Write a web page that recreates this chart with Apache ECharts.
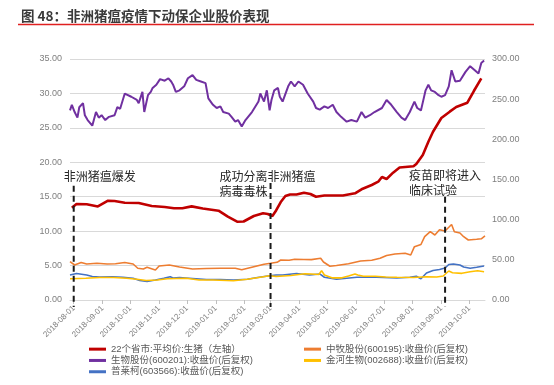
<!DOCTYPE html>
<html>
<head>
<meta charset="utf-8">
<script src="https://cdn.jsdelivr.net/npm/echarts@6/dist/echarts.min.js"></script>
<style>
html,body{margin:0;padding:0;background:#fff;}
#c{width:554px;height:385px;}
</style>
</head>
<body>
<div id="c"></div>
<script>
// ---------------- DATA ----------------
const titleText = '图 48：非洲猪瘟疫情下动保企业股价表现';
const seriesNames = ['22个省市:平均价:生猪（左轴）', '中牧股份(600195):收盘价(后复权)', '生物股份(600201):收盘价(后复权)', '金河生物(002688):收盘价(后复权)', '普莱柯(603566):收盘价(后复权)'];

const xTickLabels = ['2018-08-01','2018-09-01','2018-10-01','2018-11-01','2018-12-01','2019-01-01','2019-02-01','2019-03-01','2019-04-01','2019-05-01','2019-06-01','2019-07-01','2019-08-01','2019-09-01','2019-10-01'];
const leftTicks = [0,5,10,15,20,25,30,35];
const rightTicks = [0,50,100,150,200,250,300];

// pig price (left axis)
const pigDates = ['2018-07-30','2018-08-04','2018-08-15','2018-08-27','2018-09-07','2018-09-14','2018-09-25','2018-10-10','2018-10-24','2018-11-07','2018-11-17','2018-11-26','2018-12-06','2018-12-18','2019-01-04','2019-01-14','2019-01-24','2019-01-31','2019-02-11','2019-02-21','2019-02-26','2019-03-03','2019-03-07','2019-03-12','2019-03-17','2019-03-22','2019-03-29','2019-04-06','2019-04-13','2019-04-19','2019-04-28','2019-05-18','2019-05-31','2019-06-07','2019-06-18','2019-06-25','2019-06-29','2019-07-04','2019-07-11','2019-07-18','2019-08-02','2019-08-05','2019-08-12','2019-08-18','2019-08-23','2019-09-01','2019-09-10','2019-09-17','2019-09-29','2019-10-06','2019-10-14'];
const pigValues = [13.4,13.94,13.9,13.58,14.42,14.38,14.13,14.09,13.65,13.5,13.32,13.32,13.6,13.29,12.97,12.1,11.37,11.4,12.2,12.59,12.49,12.2,13.0,14.23,15.1,15.32,15.32,15.58,15.39,15.0,15.18,15.18,15.5,16.08,16.7,17.18,17.86,17.57,18.49,19.24,19.42,19.75,21.06,22.99,24.44,26.43,27.35,28.03,28.65,30.35,32.2];

// 生物股份 (right axis)
const swDates = ['2018-07-28','2018-07-30','2018-08-02','2018-08-05','2018-08-07','2018-08-11','2018-08-13','2018-08-16','2018-08-21','2018-08-25','2018-08-28','2018-08-31','2018-09-04','2018-09-08','2018-09-14','2018-09-17','2018-09-20','2018-09-25','2018-10-02','2018-10-08','2018-10-10','2018-10-14','2018-10-16','2018-10-20','2018-10-23','2018-10-25','2018-10-29','2018-11-02','2018-11-07','2018-11-11','2018-11-14','2018-11-16','2018-11-19','2018-11-23','2018-11-28','2018-12-02','2018-12-07','2018-12-11','2018-12-16','2018-12-21','2018-12-24','2018-12-29','2019-01-02','2019-01-06','2019-01-09','2019-01-15','2019-01-18','2019-01-22','2019-01-25','2019-01-29','2019-02-02','2019-02-09','2019-02-16','2019-02-18','2019-02-22','2019-02-25','2019-02-28','2019-03-02','2019-03-05','2019-03-09','2019-03-11','2019-03-14','2019-03-20','2019-03-23','2019-03-27','2019-03-31','2019-04-05','2019-04-10','2019-04-16','2019-04-19','2019-04-23','2019-04-28','2019-05-02','2019-05-07','2019-05-11','2019-05-16','2019-05-22','2019-05-27','2019-06-02','2019-06-07','2019-06-11','2019-06-16','2019-06-21','2019-06-29','2019-07-04','2019-07-09','2019-07-15','2019-07-20','2019-07-24','2019-07-29','2019-08-03','2019-08-06','2019-08-10','2019-08-13','2019-08-15','2019-08-18','2019-08-21','2019-08-25','2019-08-29','2019-09-01','2019-09-05','2019-09-09','2019-09-12','2019-09-16','2019-09-21','2019-09-27','2019-10-02','2019-10-07','2019-10-11','2019-10-14','2019-10-17'];
const swValues = [236,243,234,227,240,245,230,224,217,234,227,230,224,228,230,240,238,257,253,249,245,259,234,255,259,264,268,275,273,276,272,268,259,261,266,276,280,274,272,270,251,243,239,241,234,232,228,222,224,216,224,234,247,257,247,261,236,249,261,264,253,247,266,272,266,272,268,257,247,239,237,241,239,243,234,228,222,224,222,234,227,230,234,239,249,243,234,227,224,234,247,239,236,251,261,268,261,259,255,253,255,266,286,272,273,284,291,286,282,295,298];

// 中牧股份 (right axis)
const zmDates = ['2018-07-28','2018-08-02','2018-08-09','2018-08-15','2018-08-26','2018-09-06','2018-09-15','2018-09-25','2018-10-04','2018-10-09','2018-10-15','2018-10-19','2018-10-23','2018-10-28','2018-11-01','2018-11-12','2018-11-23','2018-12-07','2018-12-22','2019-01-06','2019-01-22','2019-01-29','2019-02-11','2019-02-22','2019-03-01','2019-03-08','2019-03-12','2019-03-21','2019-03-27','2019-04-06','2019-04-14','2019-04-24','2019-04-27','2019-05-04','2019-05-11','2019-05-24','2019-06-06','2019-06-18','2019-06-27','2019-07-04','2019-07-13','2019-07-24','2019-07-30','2019-08-03','2019-08-10','2019-08-14','2019-08-20','2019-08-25','2019-08-30','2019-09-05','2019-09-09','2019-09-12','2019-09-15','2019-09-21','2019-09-25','2019-09-30','2019-10-09','2019-10-14','2019-10-18'];
const zmValues = [47.7,43.6,46.7,44.8,45.7,44.8,45.2,46.7,44.8,39.5,38.6,40.7,39.2,37.3,42.3,43.6,41.1,38.6,39.2,39.5,39.5,37.6,41.5,44.6,45.7,46.9,49.8,49.4,50.7,50.4,50.3,51.9,47.3,42,42.9,45.2,48.6,49.4,51.9,55.4,57.3,58.1,56,66.4,69.1,78.8,85,80.9,87.5,85.9,90.5,94,85,83.4,78.8,74.7,75.6,76.2,79.7];

// 金河生物 (right axis)
const jhDates = ['2018-07-28','2018-08-14','2018-08-29','2018-09-13','2018-09-27','2018-10-08','2018-10-18','2018-10-30','2018-11-10','2018-11-30','2018-12-14','2018-12-29','2019-01-20','2019-02-04','2019-02-18','2019-02-28','2019-03-07','2019-03-23','2019-04-07','2019-04-14','2019-04-22','2019-04-25','2019-04-28','2019-05-06','2019-05-17','2019-05-24','2019-05-31','2019-06-03','2019-06-09','2019-06-22','2019-07-03','2019-07-15','2019-08-02','2019-08-16','2019-08-27','2019-09-03','2019-09-06','2019-09-09','2019-09-13','2019-09-23','2019-10-02','2019-10-10','2019-10-17'];
const jhValues = [26.4,27,28,28,27,25.8,24.3,24.9,26.4,27,24.9,24.9,24,25.8,28.3,30.1,29.3,30.5,32.7,32.4,31.7,36.5,31.1,27.6,27.6,29.9,32.4,31.1,29.5,29.5,28.6,28.3,28,29,28.6,29.9,33,36.1,34,33.2,35.2,36.5,35.2];

// 普莱柯 (right axis)
const plkDates = ['2018-07-28','2018-08-04','2018-08-15','2018-08-21','2018-08-29','2018-09-12','2018-09-23','2018-10-04','2018-10-11','2018-10-19','2018-10-28','2018-11-06','2018-11-13','2018-11-16','2018-11-23','2018-12-07','2018-12-22','2019-01-06','2019-01-20','2019-02-04','2019-02-15','2019-02-26','2019-03-07','2019-03-14','2019-03-29','2019-04-12','2019-04-23','2019-04-28','2019-05-11','2019-06-02','2019-06-23','2019-07-15','2019-07-29','2019-08-05','2019-08-10','2019-08-16','2019-08-23','2019-08-30','2019-09-05','2019-09-09','2019-09-14','2019-09-21','2019-09-25','2019-10-02','2019-10-09','2019-10-17'];
const plkValues = [31.1,33,31.1,29.3,28.6,28.9,28.3,27,24.3,23,24.9,27,29,27.4,28,26.8,25.5,25.5,24.9,25.8,28,29.9,31.1,31.1,33,31.1,32.4,28.3,25.8,28.3,28.3,27.4,28.3,29.5,26.4,33.6,36.7,38,39.8,44.2,44.8,43.6,41.1,39.5,40.7,42.3];

// events (dashed markers, left-axis value range)
const eventDates = ['2018-08-01','2019-03-01','2019-09-05'];
const eventTexts = ['非洲猪瘟爆发','成功分离非洲猪瘟\n病毒毒株','疫苗即将进入\n临床试验'];
const eventTops = [16.6, 17.0, 15.0];
const eventBottom = -1.0;

// ---------------- CHART ----------------
function ts(s){const p=s.split('-').map(Number);return Date.UTC(p[0],p[1]-1,p[2]);}
function pairs(d,v){return d.map((x,i)=>[ts(x),v[i]]);}
function fmtDate(v){const d=new Date(v);const m=d.getUTCMonth()+1, dd=d.getUTCDate();return d.getUTCFullYear()+'-'+(m<10?'0':'')+m+'-'+(dd<10?'0':'')+dd;}

const colors = {red:'#c00000', orange:'#ed7d31', purple:'#7030a0', yellow:'#ffc000', blue:'#4472c4'};
const chart = echarts.init(document.getElementById('c'), null, {renderer:'canvas'});
const tickTs = xTickLabels.map(ts);
const axisFont = {color:'#7f7f7f', fontFamily:'Liberation Sans, Arial, sans-serif'};

const series = [
  {name:seriesNames[2], type:'line', yAxisIndex:1, data:pairs(swDates,swValues), showSymbol:false, symbol:'none', lineStyle:{color:colors.purple,width:2}, itemStyle:{color:colors.purple}, z:3},
  {name:seriesNames[1], type:'line', yAxisIndex:1, data:pairs(zmDates,zmValues), showSymbol:false, symbol:'none', lineStyle:{color:colors.orange,width:1.6}, itemStyle:{color:colors.orange}, z:3},
  {name:seriesNames[4], type:'line', yAxisIndex:1, data:pairs(plkDates,plkValues), showSymbol:false, symbol:'none', lineStyle:{color:colors.blue,width:1.6}, itemStyle:{color:colors.blue}, z:3},
  {name:seriesNames[3], type:'line', yAxisIndex:1, data:pairs(jhDates,jhValues), showSymbol:false, symbol:'none', lineStyle:{color:colors.yellow,width:1.6}, itemStyle:{color:colors.yellow}, z:3},
  {name:seriesNames[0], type:'line', yAxisIndex:0, data:pairs(pigDates,pigValues), showSymbol:false, symbol:'none', lineStyle:{color:colors.red,width:2.6}, itemStyle:{color:colors.red}, z:4}
];
eventDates.forEach((d,i)=>{
  series.push({name:'evt'+i, type:'line', yAxisIndex:0, clip:false, silent:true, symbol:'none', z:6,
    data:[[ts(d),eventTops[i]],[ts(d),eventBottom]],
    lineStyle:{color:'#1a1a1a', width:2, type:[6,4]}});
});

const legendCommon = {orient:'vertical', icon:'rect', itemWidth:17, itemHeight:3, itemGap:0, height:60, padding:0,
  textStyle:{fontSize:9.5, color:'#595959', lineHeight:11.3, fontFamily:'Liberation Sans, "Noto Sans CJK SC", sans-serif'}, selectedMode:false};

chart.setOption({
  animation:false,
  backgroundColor:'#ffffff',
  title:{text:titleText, left:16, top:4, textStyle:{fontSize:13.5, fontWeight:'bold', color:'#3a3a3a', fontFamily:'"Noto Sans CJK SC", sans-serif'}},
  grid:{left:70, right:69, top:59, bottom:85, containLabel:false},
  legend:[
    Object.assign({left:89, top:343.5, data:[seriesNames[0],seriesNames[2],seriesNames[4]]}, legendCommon),
    Object.assign({left:304, top:343.5, data:[seriesNames[1],seriesNames[3]]}, legendCommon)
  ],
  xAxis:{type:'value', min:ts('2018-07-28'), max:ts('2019-10-18'), scale:true,
    axisLine:{lineStyle:{color:'#d9d9d9'}},
    axisTick:{show:true, customValues:tickTs, length:4, lineStyle:{color:'#bfbfbf'}},
    splitLine:{show:false},
    axisLabel:Object.assign({customValues:tickTs, rotate:45, fontSize:8, margin:7, formatter:function(v){return fmtDate(v);}}, axisFont)
  },
  yAxis:[
    {type:'value', min:0, max:35, interval:5, position:'left',
      axisLine:{show:false}, axisTick:{show:false},
      splitLine:{lineStyle:{color:'#d9d9d9', width:1}},
      axisLabel:Object.assign({fontSize:9, margin:8, formatter:v=>v.toFixed(2)}, axisFont)},
    {type:'value', min:0, max:300, interval:50, position:'right',
      axisLine:{show:false}, axisTick:{show:false}, splitLine:{show:false},
      axisLabel:Object.assign({fontSize:9, margin:7, formatter:v=>v.toFixed(2)}, axisFont)}
  ],
  series:series
});

// title underline and event texts
const labelDx = [-10, -51, -36];
const labelVal = [17.9, 17.9, 18.15];
const gfx = [{type:'line', shape:{x1:18, y1:24.5, x2:534, y2:24.5}, style:{stroke:'#e02020', lineWidth:1.5}, silent:true}];
eventDates.forEach((d,i)=>{
  const p = chart.convertToPixel({xAxisIndex:0, yAxisIndex:0}, [ts(d), labelVal[i]]);
  gfx.push({type:'text', x:p[0]+labelDx[i], y:p[1]-7.5, silent:true, z:10,
    style:{text:eventTexts[i], fontSize:12, lineHeight:15, fill:'#262626', align:'left', verticalAlign:'top',
      fontFamily:'"Noto Sans CJK SC", sans-serif'}});
});
chart.setOption({graphic:gfx});
</script>
</body>
</html>
